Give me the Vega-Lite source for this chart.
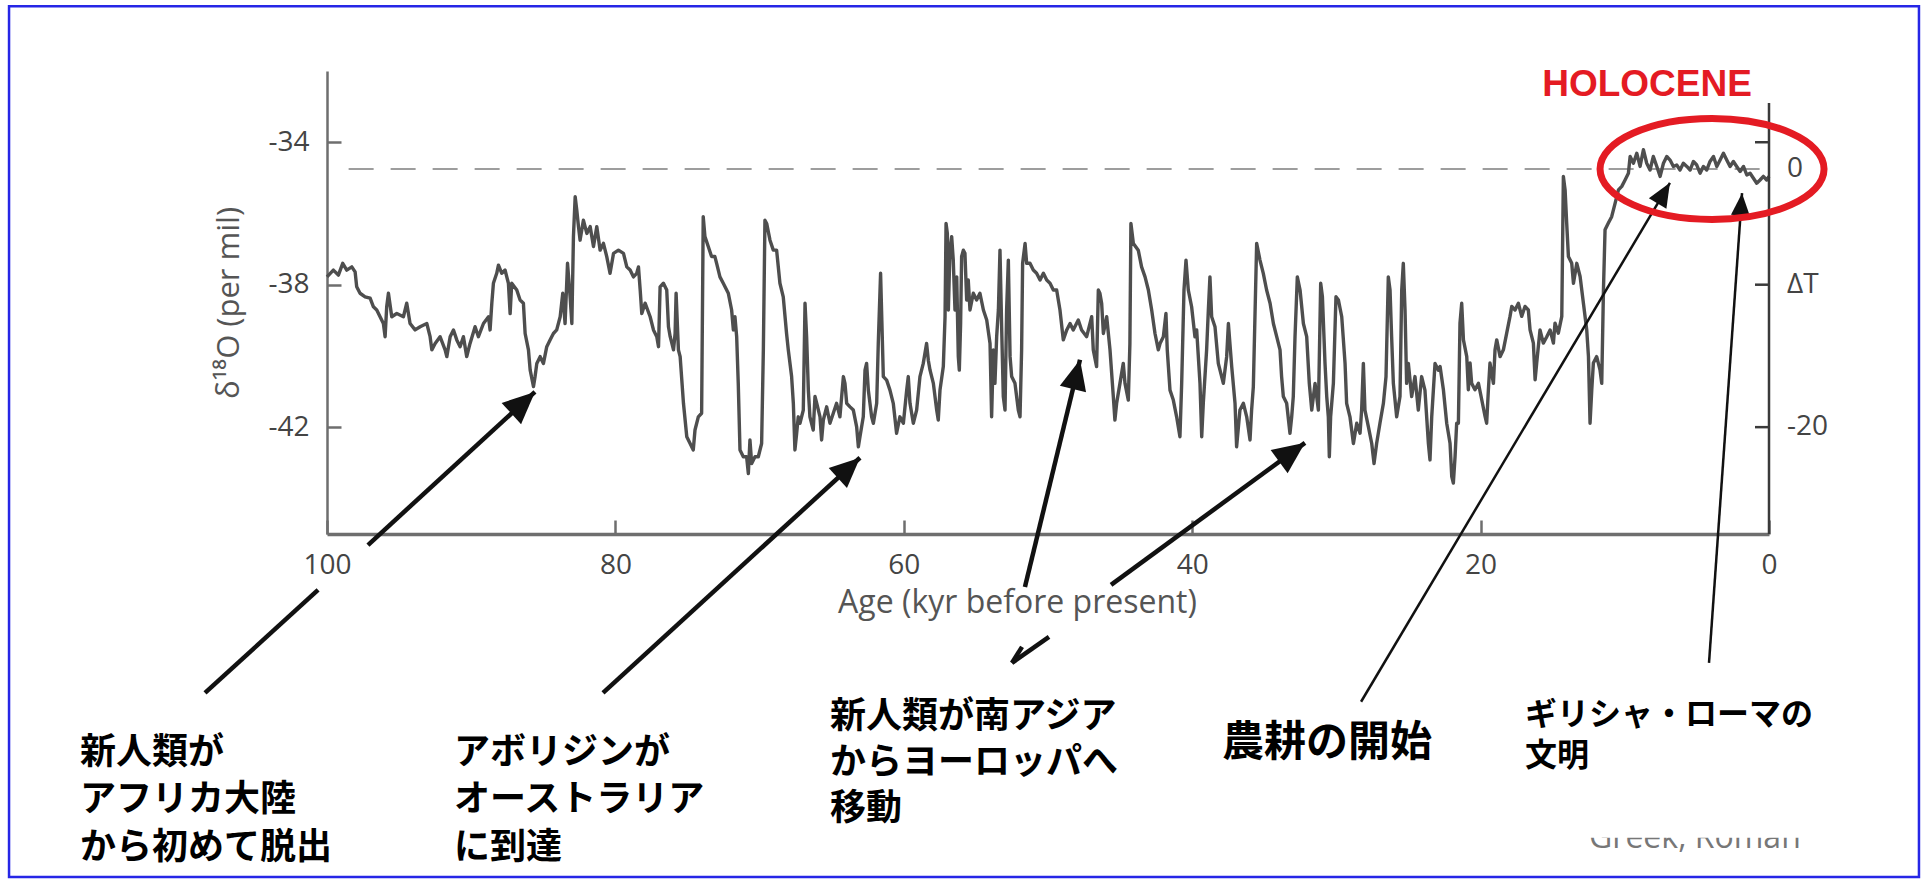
{
"$schema": "https://vega.github.io/schema/vega-lite/v6.json",
"width": 1442, "height": 463,
"autosize": {"type": "none"},
"padding": {"left": 327, "top": 71, "right": 156, "bottom": 349},
"background": "white",
"config": {"view": {"stroke": null}},
"datasets": {
"curve": [
{"age":100.0,"d18O":-37.78},{"age":99.56,"d18O":-37.59},{"age":99.21,"d18O":-37.73},{"age":98.91,"d18O":-37.40},{"age":98.63,"d18O":-37.59},{"age":98.28,"d18O":-37.50},{"age":98.05,"d18O":-37.64},{"age":97.94,"d18O":-38.06},{"age":97.71,"d18O":-38.24},{"age":97.36,"d18O":-38.34},{"age":97.01,"d18O":-38.38},{"age":96.78,"d18O":-38.62},{"age":96.55,"d18O":-38.71},{"age":96.32,"d18O":-38.90},{"age":96.09,"d18O":-39.09},{"age":95.97,"d18O":-39.46},{"age":95.86,"d18O":-38.62},{"age":95.74,"d18O":-38.24},{"age":95.51,"d18O":-38.90},{"age":95.16,"d18O":-38.81},{"age":94.70,"d18O":-38.90},{"age":94.47,"d18O":-38.52},{"age":94.24,"d18O":-39.09},{"age":93.89,"d18O":-39.27},{"age":93.54,"d18O":-39.18},{"age":93.08,"d18O":-39.09},{"age":92.85,"d18O":-39.46},{"age":92.73,"d18O":-39.83},{"age":92.50,"d18O":-39.65},{"age":92.16,"d18O":-39.46},{"age":91.81,"d18O":-39.83},{"age":91.69,"d18O":-40.02},{"age":91.46,"d18O":-39.46},{"age":91.23,"d18O":-39.27},{"age":91.00,"d18O":-39.55},{"age":90.77,"d18O":-39.74},{"age":90.54,"d18O":-39.46},{"age":90.31,"d18O":-40.02},{"age":90.08,"d18O":-39.65},{"age":89.73,"d18O":-39.18},{"age":89.50,"d18O":-39.46},{"age":89.15,"d18O":-39.09},{"age":88.80,"d18O":-38.90},{"age":88.69,"d18O":-39.27},{"age":88.57,"d18O":-38.52},{"age":88.46,"d18O":-37.96},{"age":88.23,"d18O":-37.68},{"age":88.11,"d18O":-37.45},{"age":87.88,"d18O":-37.68},{"age":87.65,"d18O":-37.59},{"age":87.42,"d18O":-37.96},{"age":87.30,"d18O":-38.81},{"age":87.19,"d18O":-37.96},{"age":86.84,"d18O":-38.15},{"age":86.61,"d18O":-38.43},{"age":86.38,"d18O":-38.52},{"age":86.26,"d18O":-39.37},{"age":86.03,"d18O":-39.83},{"age":85.91,"d18O":-40.40},{"age":85.68,"d18O":-40.86},{"age":85.57,"d18O":-40.58},{"age":85.45,"d18O":-40.21},{"age":85.22,"d18O":-40.02},{"age":84.99,"d18O":-40.21},{"age":84.76,"d18O":-39.74},{"age":84.53,"d18O":-39.55},{"age":84.30,"d18O":-39.37},{"age":84.07,"d18O":-39.27},{"age":83.83,"d18O":-38.90},{"age":83.65,"d18O":-38.24},{"age":83.49,"d18O":-39.09},{"age":83.32,"d18O":-37.40},{"age":83.14,"d18O":-38.34},{"age":83.02,"d18O":-39.09},{"age":82.91,"d18O":-36.65},{"age":82.79,"d18O":-35.53},{"age":82.68,"d18O":-35.90},{"age":82.56,"d18O":-36.37},{"age":82.45,"d18O":-36.75},{"age":82.22,"d18O":-36.19},{"age":81.98,"d18O":-36.56},{"age":81.75,"d18O":-36.37},{"age":81.52,"d18O":-36.93},{"age":81.29,"d18O":-36.37},{"age":81.06,"d18O":-37.03},{"age":80.83,"d18O":-36.84},{"age":80.60,"d18O":-37.21},{"age":80.37,"d18O":-37.68},{"age":80.13,"d18O":-37.12},{"age":79.79,"d18O":-37.03},{"age":79.44,"d18O":-37.12},{"age":79.21,"d18O":-37.50},{"age":78.98,"d18O":-37.59},{"age":78.75,"d18O":-37.78},{"age":78.52,"d18O":-37.68},{"age":78.40,"d18O":-37.50},{"age":78.28,"d18O":-38.15},{"age":78.17,"d18O":-38.81},{"age":77.94,"d18O":-38.52},{"age":77.59,"d18O":-38.90},{"age":77.36,"d18O":-39.27},{"age":77.13,"d18O":-39.46},{"age":77.01,"d18O":-39.74},{"age":76.90,"d18O":-38.06},{"age":76.67,"d18O":-37.96},{"age":76.44,"d18O":-38.15},{"age":76.32,"d18O":-39.18},{"age":76.20,"d18O":-39.46},{"age":75.97,"d18O":-39.83},{"age":75.86,"d18O":-39.37},{"age":75.79,"d18O":-38.24},{"age":75.63,"d18O":-39.83},{"age":75.51,"d18O":-40.02},{"age":75.28,"d18O":-41.33},{"age":75.05,"d18O":-42.27},{"age":74.82,"d18O":-42.46},
{"age":74.60,"d18O":-42.64},{"age":74.48,"d18O":-42.08},{"age":74.25,"d18O":-41.71},{"age":74.02,"d18O":-41.61},{"age":73.91,"d18O":-36.09},{"age":73.79,"d18O":-36.65},{"age":73.56,"d18O":-36.93},{"age":73.33,"d18O":-37.21},{"age":73.10,"d18O":-37.21},{"age":72.98,"d18O":-37.40},{"age":72.75,"d18O":-37.78},{"age":72.52,"d18O":-37.96},{"age":72.17,"d18O":-38.24},{"age":71.94,"d18O":-38.71},{"age":71.82,"d18O":-39.27},{"age":71.71,"d18O":-38.90},{"age":71.59,"d18O":-39.46},{"age":71.48,"d18O":-40.77},{"age":71.36,"d18O":-42.64},{"age":71.13,"d18O":-42.83},{"age":70.90,"d18O":-42.83},{"age":70.78,"d18O":-43.30},{"age":70.67,"d18O":-42.36},{"age":70.55,"d18O":-43.02},{"age":70.32,"d18O":-42.83},{"age":70.09,"d18O":-42.83},{"age":69.86,"d18O":-42.46},{"age":69.74,"d18O":-39.83},{"age":69.63,"d18O":-36.19},{"age":69.51,"d18O":-36.28},{"age":69.28,"d18O":-36.75},{"age":69.05,"d18O":-37.03},{"age":68.82,"d18O":-37.03},{"age":68.59,"d18O":-37.96},{"age":68.36,"d18O":-38.34},{"age":68.13,"d18O":-39.37},{"age":68.01,"d18O":-39.83},{"age":67.78,"d18O":-40.58},{"age":67.66,"d18O":-41.33},{"age":67.55,"d18O":-42.64},{"age":67.43,"d18O":-42.17},{"age":67.32,"d18O":-41.71},{"age":67.20,"d18O":-41.89},{"age":66.97,"d18O":-41.52},{"age":66.85,"d18O":-38.52},{"age":66.74,"d18O":-39.46},{"age":66.62,"d18O":-40.96},{"age":66.51,"d18O":-41.71},{"age":66.28,"d18O":-42.08},{"age":66.16,"d18O":-41.14},{"age":66.04,"d18O":-41.33},{"age":65.81,"d18O":-41.71},{"age":65.70,"d18O":-42.36},{"age":65.58,"d18O":-41.80},{"age":65.35,"d18O":-41.43},{"age":65.12,"d18O":-41.89},{"age":64.89,"d18O":-41.61},{"age":64.66,"d18O":-41.33},{"age":64.43,"d18O":-41.71},{"age":64.19,"d18O":-40.58},{"age":64.08,"d18O":-40.77},{"age":63.96,"d18O":-41.33},{"age":63.73,"d18O":-41.43},{"age":63.50,"d18O":-41.52},{"age":63.27,"d18O":-41.99},{"age":63.15,"d18O":-42.55},{"age":63.04,"d18O":-42.27},{"age":62.81,"d18O":-41.71},{"age":62.69,"d18O":-40.40},{"age":62.58,"d18O":-40.21},{"age":62.46,"d18O":-40.96},{"age":62.23,"d18O":-41.71},{"age":62.11,"d18O":-41.89},{"age":61.88,"d18O":-41.33},{"age":61.77,"d18O":-39.65},{"age":61.61,"d18O":-37.68},{"age":61.42,"d18O":-40.58},{"age":61.19,"d18O":-40.68},{"age":60.96,"d18O":-40.96},{"age":60.73,"d18O":-41.33},{"age":60.50,"d18O":-42.17},{"age":60.27,"d18O":-41.71},{"age":60.03,"d18O":-41.89},{"age":59.80,"d18O":-40.96},{"age":59.69,"d18O":-40.58},{"age":59.57,"d18O":-41.33},{"age":59.34,"d18O":-41.89},{"age":59.11,"d18O":-41.52},{"age":58.88,"d18O":-40.58},{"age":58.65,"d18O":-40.21},{"age":58.42,"d18O":-39.65},{"age":58.30,"d18O":-40.12},{"age":58.18,"d18O":-40.40},{"age":57.95,"d18O":-40.77},{"age":57.72,"d18O":-41.52},{"age":57.61,"d18O":-41.80},{"age":57.49,"d18O":-40.96},{"age":57.26,"d18O":-40.30},{"age":57.14,"d18O":-38.90},{"age":57.07,"d18O":-36.28},{"age":56.98,"d18O":-36.56},{"age":56.91,"d18O":-38.71},{"age":56.80,"d18O":-37.03},{"age":56.68,"d18O":-36.65},{"age":56.57,"d18O":-37.31},{"age":56.45,"d18O":-38.71},{"age":56.33,"d18O":-37.78},{"age":56.22,"d18O":-40.02},{"age":56.15,"d18O":-40.40},{"age":56.06,"d18O":-39.09},{"age":55.99,"d18O":-37.21},{"age":55.87,"d18O":-37.03},{"age":55.76,"d18O":-37.12},{"age":55.64,"d18O":-38.43},{"age":55.53,"d18O":-37.87},{"age":55.41,"d18O":-38.71},{"age":55.18,"d18O":-38.24},{"age":54.95,"d18O":-38.43},{"age":54.72,"d18O":-38.24},{"age":54.48,"d18O":-38.71},{"age":54.25,"d18O":-38.99},{"age":54.02,"d18O":-39.65},{"age":53.91,"d18O":-41.71},{"age":53.79,"d18O":-39.83},{"age":53.68,"d18O":-40.77},{"age":53.56,"d18O":-39.46},{"age":53.44,"d18O":-38.71},{"age":53.33,"d18O":-37.03},{"age":53.21,"d18O":-39.27},{"age":53.10,"d18O":-41.14},{"age":52.98,"d18O":-41.52},{"age":52.87,"d18O":-38.71},{"age":52.75,"d18O":-37.31},{"age":52.63,"d18O":-40.02},{"age":52.52,"d18O":-40.58},{"age":52.29,"d18O":-40.77},{"age":52.06,"d18O":-41.52},{"age":51.94,"d18O":-41.71},{"age":51.83,"d18O":-39.83},{"age":51.76,"d18O":-37.40},{"age":51.59,"d18O":-36.84},{"age":51.48,"d18O":-37.40},{"age":51.25,"d18O":-37.40},{"age":51.02,"d18O":-37.59},{"age":50.79,"d18O":-37.68},{"age":50.55,"d18O":-37.87},{"age":50.32,"d18O":-37.68},{"age":50.09,"d18O":-37.87},{"age":49.86,"d18O":-37.96},{"age":49.63,"d18O":-38.15},{"age":49.40,"d18O":-38.15},{"age":49.17,"d18O":-38.71},{"age":48.94,"d18O":-39.55},{"age":48.70,"d18O":-39.27},{"age":48.47,"d18O":-39.09},
{"age":48.25,"d18O":-39.27},{"age":47.90,"d18O":-38.99},{"age":47.67,"d18O":-39.27},{"age":47.32,"d18O":-39.46},{"age":46.97,"d18O":-38.90},{"age":46.86,"d18O":-39.83},{"age":46.63,"d18O":-40.30},{"age":46.51,"d18O":-38.15},{"age":46.40,"d18O":-38.24},{"age":46.28,"d18O":-38.52},{"age":46.16,"d18O":-39.37},{"age":45.93,"d18O":-38.90},{"age":45.70,"d18O":-39.83},{"age":45.47,"d18O":-41.14},{"age":45.36,"d18O":-41.80},{"age":45.24,"d18O":-41.33},{"age":45.01,"d18O":-40.77},{"age":44.78,"d18O":-40.21},{"age":44.66,"d18O":-40.77},{"age":44.43,"d18O":-41.24},{"age":44.32,"d18O":-39.65},{"age":44.25,"d18O":-36.28},{"age":44.08,"d18O":-36.84},{"age":43.74,"d18O":-37.03},{"age":43.51,"d18O":-37.50},{"age":43.27,"d18O":-37.78},{"age":43.04,"d18O":-38.15},{"age":42.81,"d18O":-38.71},{"age":42.58,"d18O":-39.37},{"age":42.35,"d18O":-39.83},{"age":42.23,"d18O":-39.65},{"age":42.00,"d18O":-39.46},{"age":41.82,"d18O":-38.81},{"age":41.73,"d18O":-39.83},{"age":41.54,"d18O":-40.96},{"age":41.31,"d18O":-41.24},{"age":41.08,"d18O":-41.71},{"age":40.85,"d18O":-42.27},{"age":40.73,"d18O":-40.77},{"age":40.57,"d18O":-38.15},{"age":40.43,"d18O":-37.31},{"age":40.27,"d18O":-38.15},{"age":40.04,"d18O":-38.62},{"age":39.81,"d18O":-39.46},{"age":39.69,"d18O":-39.27},{"age":39.46,"d18O":-40.77},{"age":39.34,"d18O":-42.27},{"age":39.23,"d18O":-41.33},{"age":39.00,"d18O":-39.83},{"age":38.88,"d18O":-38.71},{"age":38.77,"d18O":-37.78},{"age":38.65,"d18O":-38.90},{"age":38.42,"d18O":-39.18},{"age":38.19,"d18O":-40.21},{"age":37.84,"d18O":-40.77},{"age":37.61,"d18O":-40.02},{"age":37.49,"d18O":-39.09},{"age":37.26,"d18O":-40.30},{"age":37.03,"d18O":-41.33},{"age":36.92,"d18O":-42.55},{"age":36.69,"d18O":-41.52},{"age":36.45,"d18O":-41.33},{"age":36.22,"d18O":-41.71},{"age":35.99,"d18O":-42.36},{"age":35.88,"d18O":-41.52},{"age":35.76,"d18O":-40.86},{"age":35.53,"d18O":-36.84},{"age":35.30,"d18O":-37.31},{"age":35.07,"d18O":-37.68},{"age":34.84,"d18O":-38.15},{"age":34.60,"d18O":-38.52},{"age":34.37,"d18O":-39.09},{"age":34.14,"d18O":-39.46},{"age":33.91,"d18O":-39.83},{"age":33.80,"d18O":-40.58},{"age":33.68,"d18O":-41.14},{"age":33.45,"d18O":-41.33},{"age":33.22,"d18O":-42.17},{"age":33.10,"d18O":-41.71},{"age":32.99,"d18O":-41.14},{"age":32.87,"d18O":-39.46},{"age":32.71,"d18O":-37.78},{"age":32.52,"d18O":-38.15},{"age":32.29,"d18O":-39.09},{"age":32.06,"d18O":-39.46},{"age":31.88,"d18O":-40.77},{"age":31.71,"d18O":-41.52},{"age":31.48,"d18O":-40.77},{"age":31.25,"d18O":-41.52},{"age":31.09,"d18O":-37.96},{"age":30.97,"d18O":-38.34},{"age":30.79,"d18O":-40.21},{"age":30.67,"d18O":-41.14},{"age":30.56,"d18O":-41.71},{"age":30.49,"d18O":-42.83},{"age":30.40,"d18O":-41.71},{"age":30.21,"d18O":-40.77},{"age":30.03,"d18O":-38.34},{"age":29.86,"d18O":-38.43},{"age":29.63,"d18O":-38.90},{"age":29.40,"d18O":-40.21},{"age":29.29,"d18O":-41.33},{"age":29.06,"d18O":-41.71},{"age":28.82,"d18O":-42.46},{"age":28.59,"d18O":-41.89},{"age":28.36,"d18O":-42.17},{"age":28.25,"d18O":-41.52},{"age":28.13,"d18O":-40.21},{"age":28.02,"d18O":-41.52},{"age":27.78,"d18O":-41.99},{"age":27.55,"d18O":-42.46},{"age":27.39,"d18O":-43.02},{"age":27.21,"d18O":-42.46},{"age":26.98,"d18O":-41.89},{"age":26.74,"d18O":-41.33},{"age":26.56,"d18O":-40.58},{"age":26.40,"d18O":-37.78},{"age":26.28,"d18O":-38.15},{"age":26.17,"d18O":-39.46},{"age":26.05,"d18O":-40.77},{"age":25.82,"d18O":-41.71},{"age":25.59,"d18O":-41.14},{"age":25.47,"d18O":-38.15},{"age":25.36,"d18O":-37.40},{"age":25.24,"d18O":-38.71},{"age":25.13,"d18O":-40.77},{"age":25.01,"d18O":-40.21},{"age":24.78,"d18O":-41.14},{"age":24.55,"d18O":-40.58},{"age":24.32,"d18O":-41.52},{"age":24.09,"d18O":-40.58},{"age":23.86,"d18O":-40.96},{"age":23.62,"d18O":-42.46},{"age":23.51,"d18O":-42.92},{"age":23.39,"d18O":-41.71},{"age":23.16,"d18O":-40.21},{"age":22.93,"d18O":-40.40},{"age":22.81,"d18O":-40.30},
{"age":22.58,"d18O":-40.95},{"age":22.35,"d18O":-41.89},{"age":22.12,"d18O":-42.45},{"age":22.00,"d18O":-43.39},{"age":21.89,"d18O":-43.57},{"age":21.77,"d18O":-42.82},{"age":21.66,"d18O":-41.89},{"age":21.54,"d18O":-41.89},{"age":21.43,"d18O":-39.08},{"age":21.31,"d18O":-38.52},{"age":21.19,"d18O":-39.55},{"age":20.96,"d18O":-40.02},{"age":20.85,"d18O":-40.95},{"age":20.73,"d18O":-40.20},{"age":20.62,"d18O":-40.77},{"age":20.39,"d18O":-40.95},{"age":20.15,"d18O":-40.77},{"age":19.92,"d18O":-41.23},{"age":19.69,"d18O":-41.70},{"age":19.58,"d18O":-41.89},{"age":19.46,"d18O":-40.95},{"age":19.35,"d18O":-40.20},{"age":19.11,"d18O":-40.77},{"age":19.00,"d18O":-39.83},{"age":18.88,"d18O":-39.55},{"age":18.65,"d18O":-40.02},{"age":18.42,"d18O":-39.83},{"age":18.19,"d18O":-39.36},{"age":17.96,"d18O":-38.89},{"age":17.84,"d18O":-38.61},{"age":17.61,"d18O":-38.71},{"age":17.38,"d18O":-38.52},{"age":17.15,"d18O":-38.89},{"age":16.92,"d18O":-38.61},{"age":16.69,"d18O":-38.71},{"age":16.57,"d18O":-39.27},{"age":16.34,"d18O":-39.64},{"age":16.22,"d18O":-40.67},{"age":16.11,"d18O":-40.20},{"age":15.88,"d18O":-39.27},{"age":15.65,"d18O":-39.64},{"age":15.41,"d18O":-39.46},{"age":15.18,"d18O":-39.27},{"age":14.95,"d18O":-39.64},{"age":14.84,"d18O":-39.08},{"age":14.61,"d18O":-39.36},{"age":14.37,"d18O":-38.89},{"age":14.26,"d18O":-34.96},{"age":14.14,"d18O":-35.34},{"age":14.03,"d18O":-36.27},{"age":13.91,"d18O":-37.21},{"age":13.68,"d18O":-37.40},{"age":13.56,"d18O":-37.96},{"age":13.33,"d18O":-37.40},{"age":13.10,"d18O":-37.77},{"age":12.87,"d18O":-38.52},{"age":12.64,"d18O":-39.27},{"age":12.52,"d18O":-40.02},{"age":12.41,"d18O":-41.89},{"age":12.29,"d18O":-40.95},{"age":12.18,"d18O":-40.20},{"age":11.95,"d18O":-40.02},{"age":11.72,"d18O":-40.39},{"age":11.60,"d18O":-40.77},{"age":11.48,"d18O":-38.14},{"age":11.37,"d18O":-36.46},{"age":11.14,"d18O":-36.27},{"age":10.91,"d18O":-36.09},{"age":10.67,"d18O":-35.71},{"age":10.44,"d18O":-35.34},{"age":10.21,"d18O":-35.24},{"age":9.98,"d18O":-35.06},{"age":9.75,"d18O":-34.87},{"age":9.63,"d18O":-34.40},{"age":9.40,"d18O":-34.59},{"age":9.17,"d18O":-34.31},{"age":8.94,"d18O":-34.68},{"age":8.71,"d18O":-34.21},{"age":8.48,"d18O":-34.59},{"age":8.25,"d18O":-34.78},{"age":8.02,"d18O":-34.40},{"age":7.78,"d18O":-34.68},{"age":7.55,"d18O":-34.96},{"age":7.32,"d18O":-34.59},{"age":7.09,"d18O":-34.40},{"age":6.86,"d18O":-34.50},{"age":6.63,"d18O":-34.68},{"age":6.40,"d18O":-34.64},{"age":6.17,"d18O":-34.78},{"age":5.94,"d18O":-34.59},{"age":5.70,"d18O":-34.68},{"age":5.47,"d18O":-34.78},{"age":5.24,"d18O":-34.54},{"age":5.01,"d18O":-34.64},{"age":4.78,"d18O":-34.87},{"age":4.55,"d18O":-34.68},{"age":4.32,"d18O":-34.78},{"age":4.09,"d18O":-34.54},{"age":3.85,"d18O":-34.40},{"age":3.62,"d18O":-34.68},{"age":3.39,"d18O":-34.50},{"age":3.16,"d18O":-34.31},{"age":2.93,"d18O":-34.50},{"age":2.70,"d18O":-34.68},{"age":2.47,"d18O":-34.54},{"age":2.24,"d18O":-34.68},{"age":2.00,"d18O":-34.82},{"age":1.77,"d18O":-34.68},{"age":1.54,"d18O":-34.92},{"age":1.31,"d18O":-34.87},{"age":1.08,"d18O":-35.01},{"age":0.85,"d18O":-35.15},{"age":0.62,"d18O":-35.06},{"age":0.39,"d18O":-34.96},{"age":0.16,"d18O":-35.06},{"age":0.0,"d18O":-34.96}
],
"arrowsThick": [
{"arrow":"A","age":97.16,"d18O":-45.31,"age2":85.58,"d18O2":-41.01},
{"arrow":"A","age":108.46,"d18O":-49.46,"age2":100.62,"d18O2":-46.57},
{"arrow":"B","age":80.86,"d18O":-49.46,"age2":63.04,"d18O2":-42.86},
{"arrow":"C","age":51.60,"d18O":-46.49,"age2":47.78,"d18O2":-40.11},
{"arrow":"C","age":51.80,"d18O":-48.17,"age2":52.50,"d18O2":-48.62},
{"arrow":"C","age":52.50,"d18O":-48.62,"age2":49.93,"d18O2":-47.89},
{"arrow":"D","age":45.63,"d18O":-46.43,"age2":32.18,"d18O2":-42.44}
],
"arrowsThin": [
{"arrow":"E","age":28.29,"d18O":-49.71,"age2":6.87,"d18O2":-35.14},
{"arrow":"F","age":4.16,"d18O":-48.62,"age2":1.87,"d18O2":-35.43}
],
"notes": [
{"label":"新人類が\nアフリカ大陸\nから初めて脱出","age":117.13,"d18O":-51.45},
{"label":"アボリジンが\nオーストラリア\nに到達","age":91.19,"d18O":-51.45}
]
},
"encoding": {
"x": {"field": "age", "type": "quantitative",
 "scale": {"domain": [0, 100], "reverse": true, "nice": false, "zero": false},
 "axis": {"values": [100, 80, 60, 40, 20, 0], "labelExpr": "'' + datum.value", "title": "Age (kyr before present)", "grid": false,
  "domainColor": "#6e6e6e", "domainWidth": 3.5, "tickColor": "#6e6e6e", "tickWidth": 2.5, "tickSize": -14,
  "labelPadding": 31, "labelFont": "Open Sans", "labelFontSize": 28, "labelColor": "#444", "labelFlush": false, "labelOverlap": false,
  "titleFont": "Open Sans", "titleFontSize": 32, "titleFontWeight": "normal", "titleColor": "#555", "titlePadding": 8, "titleX": 690}},
"y": {"field": "d18O", "type": "quantitative",
 "scale": {"domain": [-45, -32], "nice": false, "zero": false},
 "axis": {"values": [-34, -38, -42], "labelExpr": "'' + datum.value", "title": "δ¹⁸O (per mil)", "grid": false,
  "domainColor": "#6e6e6e", "domainWidth": 2.5, "tickColor": "#6e6e6e", "tickWidth": 2.5, "tickSize": -14,
  "labelPadding": 32, "labelFont": "Open Sans", "labelFontSize": 28, "labelColor": "#444", "labelFlush": false, "labelOverlap": false,
  "titleFont": "Open Sans", "titleFontSize": 31, "titleFontWeight": "normal", "titleColor": "#555", "titlePadding": 22}}
},
"layer": [
{"data": {"values": [{"age": 122.05, "age2": -10.40, "d18O": -30.18, "d18O2": -54.63}]},
 "mark": {"type": "rect", "fillOpacity": 0, "stroke": "#2626e6", "strokeWidth": 2.5},
 "encoding": {"x2": {"field": "age2"}, "y2": {"field": "d18O2"}}},
{"data": {"values": [{"age": 98.5, "age2": 0, "d18O": -34.75}]},
 "mark": {"type": "rule", "color": "#9d9d9d", "strokeWidth": 2, "strokeDash": [25, 17]},
 "encoding": {"x2": {"field": "age2"}}},
{"data": {"name": "curve"},
 "mark": {"type": "line", "color": "#4e4e4e", "strokeWidth": 3.4, "strokeJoin": "round"}},
{"data": {"values": [
  {"age": 0, "age2": 0, "d18O": -32.9, "d18O2": -45},
  {"age": 0.97, "age2": 0, "d18O": -34, "d18O2": -34},
  {"age": 0.97, "age2": 0, "d18O": -38, "d18O2": -38},
  {"age": 0.97, "age2": 0, "d18O": -42, "d18O2": -42}]},
 "mark": {"type": "rule", "color": "#3a3a3a", "strokeWidth": 2.5},
 "encoding": {"x2": {"field": "age2"}, "y2": {"field": "d18O2"}}},
{"data": {"values": [
  {"age": 0, "d18O": -34.75, "label": "0"},
  {"age": 0, "d18O": -38, "label": "ΔT"},
  {"age": 0, "d18O": -42, "label": "-20"}]},
 "mark": {"type": "text", "align": "left", "baseline": "middle", "dx": 18, "font": "Open Sans", "fontSize": 28, "color": "#444"},
 "encoding": {"text": {"field": "label"}}},
{"data": {"name": "arrowsThick"},
 "mark": {"type": "rule", "color": "#111", "strokeWidth": 4.5},
 "encoding": {"x2": {"field": "age2"}, "y2": {"field": "d18O2"}}},
{"data": {"name": "arrowsThin"},
 "mark": {"type": "rule", "color": "#111", "strokeWidth": 2.5},
 "encoding": {"x2": {"field": "age2"}, "y2": {"field": "d18O2"}}},
{"data": {"values": [{"age": 85.58, "d18O": -41.01}]},
 "mark": {"type": "point", "shape": "M0,0L0.9,2L-0.9,2Z", "filled": true, "color": "#111", "opacity": 1, "size": 1024, "angle": 47.5}},
{"data": {"values": [{"age": 63.04, "d18O": -42.86}]},
 "mark": {"type": "point", "shape": "M0,0L0.9,2L-0.9,2Z", "filled": true, "color": "#111", "opacity": 1, "size": 900, "angle": 47.5}},
{"data": {"values": [{"age": 47.78, "d18O": -40.11}]},
 "mark": {"type": "point", "shape": "M0,0L0.9,2L-0.9,2Z", "filled": true, "color": "#111", "opacity": 1, "size": 900, "angle": 13.6}},
{"data": {"values": [{"age": 32.18, "d18O": -42.44}]},
 "mark": {"type": "point", "shape": "M0,0L0.9,2L-0.9,2Z", "filled": true, "color": "#111", "opacity": 1, "size": 1024, "angle": 53.8}},
{"data": {"values": [{"age": 6.87, "d18O": -35.14}]},
 "mark": {"type": "point", "shape": "M0,0L0.85,2L-0.85,2Z", "filled": true, "color": "#111", "opacity": 1, "size": 576, "angle": 30.8}},
{"data": {"values": [{"age": 1.87, "d18O": -35.43}]},
 "mark": {"type": "point", "shape": "M0,0L0.85,2L-0.85,2Z", "filled": true, "color": "#111", "opacity": 1, "size": 500, "angle": 4}},
{"data": {"values": [{"age": 3.95, "d18O": -34.75}]},
 "mark": {"type": "point", "shape": "M-1,0A1,0.451 0 1,1 1,0A1,0.451 0 1,1 -1,0Z", "filled": false, "color": "#e41b23", "strokeWidth": 7, "opacity": 1, "size": 50176}},
{"data": {"values": [{"age": 8.46, "d18O": -32.39, "label": "HOLOCENE"}]},
 "mark": {"type": "text", "align": "center", "baseline": "middle", "font": "Liberation Sans", "fontWeight": "bold", "fontSize": 37, "color": "#e41b23"},
 "encoding": {"text": {"field": "label"}}},
{"data": {"name": "notes"},
 "mark": {"type": "text", "align": "left", "baseline": "alphabetic", "lineBreak": "\n", "lineHeight": 47.5, "font": "Noto Sans CJK JP", "fontWeight": "bold", "fontSize": 36, "color": "#000"},
 "encoding": {"text": {"field": "label"}}},
{"data": {"values": [{"age": 65.12, "d18O": -50.44, "label": "新人類が南アジア\nからヨーロッパへ\n移動"}]},
 "mark": {"type": "text", "align": "left", "baseline": "alphabetic", "lineBreak": "\n", "lineHeight": 46, "font": "Noto Sans CJK JP", "fontWeight": "bold", "fontSize": 36, "color": "#000"},
 "encoding": {"text": {"field": "label"}}},
{"data": {"values": [{"age": 37.93, "d18O": -50.78, "label": "農耕の開始"}]},
 "mark": {"type": "text", "align": "left", "baseline": "middle", "dy": 3, "font": "Noto Sans CJK JP", "fontWeight": "bold", "fontSize": 42, "color": "#000"},
 "encoding": {"text": {"field": "label"}}},
{"data": {"values": [{"age": 16.92, "d18O": -50.35, "label": "ギリシャ・ローマの\n文明"}]},
 "mark": {"type": "text", "align": "left", "baseline": "alphabetic", "lineBreak": "\n", "lineHeight": 41, "font": "Noto Sans CJK JP", "fontWeight": "bold", "fontSize": 32, "color": "#000"},
 "encoding": {"text": {"field": "label"}}},
{"data": {"values": [{"age": 12.48, "d18O": -53.81, "label": "Greek, Roman"}]},
 "mark": {"type": "text", "align": "left", "baseline": "alphabetic", "font": "Open Sans", "fontSize": 32, "color": "#777"},
 "encoding": {"text": {"field": "label"}}},
{"data": {"values": [{"age": 13.11, "age2": -4.23, "d18O": -52.75, "d18O2": -53.53}]},
 "mark": {"type": "rect", "color": "white", "opacity": 1},
 "encoding": {"x2": {"field": "age2"}, "y2": {"field": "d18O2"}}}
]
}
